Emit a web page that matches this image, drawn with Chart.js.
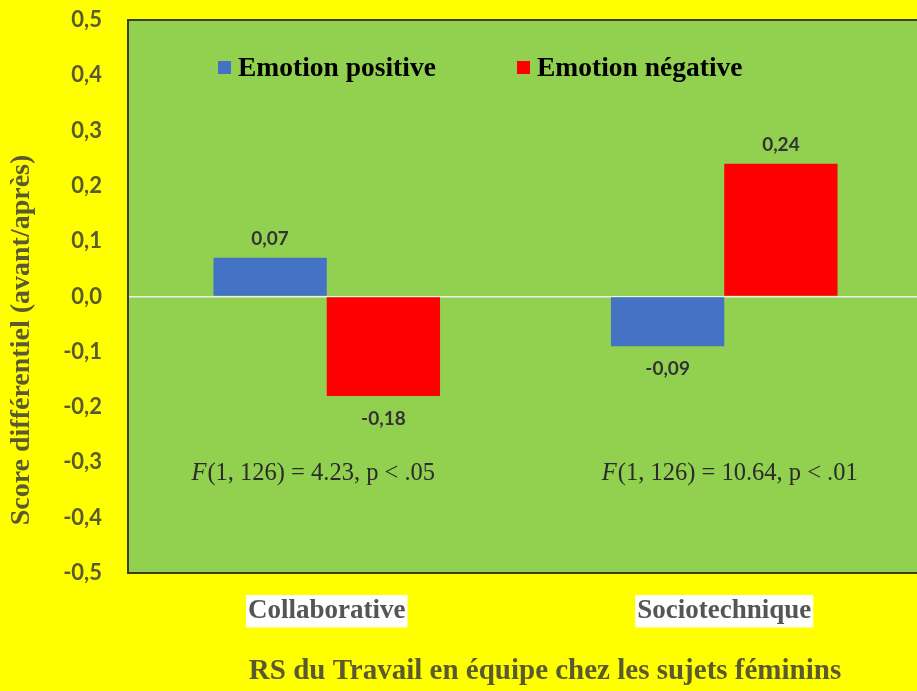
<!DOCTYPE html>
<html>
<head>
<meta charset="utf-8">
<script src="https://cdn.jsdelivr.net/npm/chart.js@4.4.1/dist/chart.umd.min.js"></script>
<style>
  html, body { margin: 0; padding: 0; background: #ffff00; overflow: hidden; }
  #wrap { width: 923px; height: 691px; position: relative; }
</style>
</head>
<body>
<div id="wrap"><canvas id="chart"></canvas></div>
<script>
// ── Données ────────────────────────────────────────────────────
const categories     = ['Collaborative', 'Sociotechnique'];
const seriesNames    = ['Emotion positive', 'Emotion négative'];
const seriesColors   = ['#4472c4', '#ff0000'];
const valPositive    = [0.07, -0.09];
const valNegative    = [-0.18, 0.24];
const statItalic     = ['F', 'F'];
const statRest       = ['(1, 126) = 4.23, p < .05', '(1, 126) = 10.64, p < .01'];
const statLevel      = -0.32;
const yMin = -0.5, yMax = 0.5, yStep = 0.1;
const xTitle = 'RS du Travail en équipe chez les sujets féminins';
const yTitle = 'Score différentiel (avant/après)';

const OLIVE = '#5a5a2d';
const SERIF = "'Liberation Serif', 'Times New Roman', serif";
const SANS  = "Lato, 'Open Sans', sans-serif";

const fmt = (v) => (Math.abs(v) < 1e-9 ? 0 : v);

const plotDecor = {
  id: 'plotDecor',
  beforeDraw(chart) {
    const { ctx, chartArea: a } = chart;
    ctx.save();
    ctx.fillStyle = '#92d050';
    ctx.fillRect(a.left, a.top, a.right - a.left, a.bottom - a.top);
    ctx.restore();
  },
  afterDatasetsDraw(chart) {
    const { ctx, chartArea: a, scales } = chart;
    ctx.save();

    // étiquettes de valeurs
    ctx.font = `bold 19px ${SANS}`;
    ctx.fillStyle = '#333333';
    ctx.textAlign = 'center';
    ctx.textBaseline = 'middle';
    chart.data.datasets.forEach((ds, di) => {
      chart.getDatasetMeta(di).data.forEach((el, i) => {
        const v = ds.data[i];
        const txt = v.toFixed(2).replace('.', ',');
        ctx.fillText(txt, el.x, v >= 0 ? el.y - 19 : el.y + 23);
      });
    });

    // légende
    const legendX = [a.left + 90, a.left + 389];
    const legendY = a.top + 48;
    ctx.font = `bold 27.5px ${SERIF}`;
    ctx.textAlign = 'left';
    chart.data.datasets.forEach((ds, di) => {
      ctx.fillStyle = ds.backgroundColor;
      ctx.fillRect(legendX[di], legendY - 7, 13, 13);
      ctx.fillStyle = '#000000';
      ctx.fillText(ds.label, legendX[di] + 20, legendY + 1);
    });

    // statistiques F
    const y = scales.y.getPixelForValue(statLevel);
    const shift = [-14, 5];
    const fI = `italic 24.5px ${SERIF}`;
    const fR = `24.5px ${SERIF}`;
    ctx.fillStyle = '#2b2b2b';
    categories.forEach((_, i) => {
      ctx.font = fI;
      const w1 = ctx.measureText(statItalic[i]).width;
      ctx.font = fR;
      const w2 = ctx.measureText(statRest[i]).width;
      const x0 = scales.x.getPixelForValue(i) + shift[i] - (w1 + w2) / 2;
      ctx.font = fI;
      ctx.fillText(statItalic[i], x0, y);
      ctx.font = fR;
      ctx.fillText(statRest[i], x0 + w1 + 1, y);
    });
    ctx.restore();
  },
  afterDraw(chart) {
    const { ctx, chartArea: a } = chart;
    ctx.save();
    ctx.strokeStyle = '#3d3d1f';
    ctx.lineWidth = 2;
    ctx.beginPath();
    ctx.moveTo(a.right + 2, a.top);
    ctx.lineTo(a.left, a.top);
    ctx.lineTo(a.left, a.bottom);
    ctx.lineTo(a.right + 2, a.bottom);
    ctx.stroke();

    // titres des axes
    ctx.fillStyle = OLIVE;
    ctx.textAlign = 'center';
    ctx.textBaseline = 'middle';
    ctx.font = `bold 29px ${SERIF}`;
    ctx.fillText(xTitle, 545, 672);
    ctx.translate(22, 340);
    ctx.rotate(-Math.PI / 2);
    ctx.font = `bold 28px ${SERIF}`;
    ctx.fillText(yTitle, 0, 0);
    ctx.restore();
  },
};

new Chart(document.getElementById('chart'), {
  type: 'bar',
  data: {
    labels: categories,
    datasets: [
      { label: seriesNames[0], data: valPositive, backgroundColor: seriesColors[0] },
      { label: seriesNames[1], data: valNegative, backgroundColor: seriesColors[1] },
    ],
  },
  options: {
    responsive: true,
    maintainAspectRatio: false,
    animation: false,
    layout: { padding: { top: 20, left: 0, right: 0, bottom: 0 } },
    datasets: { bar: { categoryPercentage: 0.57, barPercentage: 1.0 } },
    plugins: { legend: { display: false }, tooltip: { enabled: false } },
    scales: {
      x: {
        grid: { display: false },
        border: { display: false },
        afterFit: (s) => { s.height = 118; s.paddingLeft = 0; s.paddingRight = 0; },
        ticks: {
          font: { family: SERIF, size: 27, weight: 'bold' },
          color: '#555555',
          padding: 14,
          showLabelBackdrop: true,
          backdropColor: '#ffffff',
          backdropPadding: { top: 0, bottom: 0, left: 2, right: 2 },
        },
      },
      y: {
        min: yMin,
        max: yMax,
        afterFit: (s) => { s.width = 128; s.paddingTop = 0; s.paddingBottom = 0; },
        border: { display: false },
        grid: {
          drawTicks: false,
          color: (c) => (Math.abs(c.tick.value) < 1e-9 ? '#eef2e6' : 'rgba(0,0,0,0)'),
          lineWidth: 1.5,
        },
        ticks: {
          stepSize: yStep,
          padding: 26,
          color: OLIVE,
          font: { family: SANS, size: 22, weight: 'bold' },
          callback: (v) => fmt(v).toFixed(1).replace('.', ','),
        },
      },
    },
  },
  plugins: [plotDecor],
});
</script>
</body>
</html>
